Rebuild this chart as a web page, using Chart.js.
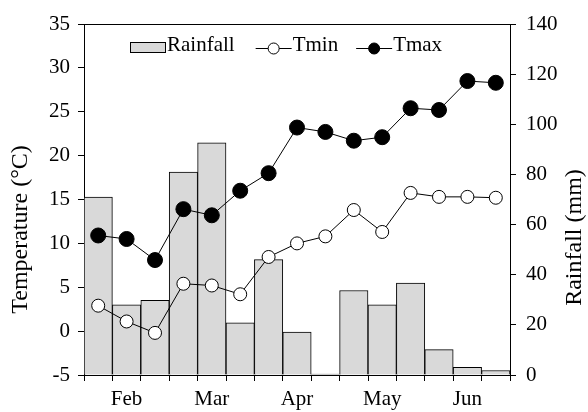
<!DOCTYPE html>
<html>
<head>
<meta charset="utf-8">
<script src="https://cdn.jsdelivr.net/npm/chart.js@4.4.1/dist/chart.umd.min.js"></script>
<style>
  html, body { margin: 0; padding: 0; background: #fff; }
</style>
</head>
<body>
<canvas id="chart" width="588" height="412"></canvas>
<script>
// Datos (15 periodos, feb - jun)
const periods = ['', 'Feb', '', '', 'Mar', '', '', 'Apr', '', '', 'May', '', '', 'Jun', ''];
const rainfall = [71, 28, 29.8, 80.9, 92.6, 20.8, 46, 17.1, 0.4, 33.7, 28, 36.7, 10.1, 3.1, 1.8];
const tmin = [2.9, 1.1, -0.2, 5.4, 5.2, 4.2, 8.45, 10, 10.8, 13.8, 11.3, 15.75, 15.3, 15.3, 15.2];
const tmax = [10.9, 10.5, 8.1, 13.9, 13.2, 16, 18, 23.2, 22.7, 21.7, 22.1, 25.4, 25.2, 28.5, 28.3];
const tempTicks = { min: -5, max: 35, step: 5 };
const rainTicks = { min: 0, max: 140, step: 20 };

const serif = '"Liberation Serif", "Times New Roman", serif';
const tickFont = { family: serif, size: 21 };

// Leyenda dentro del área del gráfico: caja, línea con círculo abierto, línea con círculo lleno
const insideLegend = {
  id: 'insideLegend',
  afterDraw(chart) {
    const { ctx, chartArea } = chart;
    const items = [
      { kind: 'box', text: 'Rainfall', w: 36, gap: 21 },
      { kind: 'open', text: 'Tmin', w: 36, gap: 18 },
      { kind: 'filled', text: 'Tmax', w: 36, gap: 0 }
    ];
    ctx.save();
    ctx.font = '21px ' + serif;
    ctx.fillStyle = '#000';
    ctx.strokeStyle = '#000';
    ctx.lineWidth = 1;
    ctx.textBaseline = 'alphabetic';
    let x = chartArea.left + 46;
    const yBase = chartArea.top + 27;
    const yMark = chartArea.top + 24;
    items.forEach(it => {
      if (it.kind === 'box') {
        ctx.fillStyle = '#d9d9d9';
        ctx.fillRect(x, yMark - 6, it.w, 10);
        ctx.strokeRect(x + 0.5, yMark - 5.5, it.w - 1, 10);
      } else {
        ctx.beginPath();
        ctx.moveTo(x, yMark + 0.5);
        ctx.lineTo(x + it.w, yMark + 0.5);
        ctx.stroke();
        ctx.beginPath();
        ctx.arc(x + it.w / 2, yMark + 0.5, 5.5, 0, Math.PI * 2);
        ctx.fillStyle = it.kind === 'open' ? '#fff' : '#000';
        ctx.fill();
        ctx.stroke();
      }
      x += it.w + 1;
      ctx.fillStyle = '#000';
      ctx.fillText(it.text, x, yBase);
      x += ctx.measureText(it.text).width + it.gap;
    });
    ctx.restore();
  }
};

// Marco superior y títulos de los ejes, ambos leídos de abajo hacia arriba
const axisTitles = {
  id: 'axisTitles',
  afterDraw(chart) {
    const { ctx, chartArea } = chart;
    const midY = (chartArea.top + chartArea.bottom) / 2;
    ctx.save();
    ctx.strokeStyle = '#000';
    ctx.lineWidth = 1;
    ctx.beginPath();
    ctx.moveTo(chartArea.left, chartArea.top + 0.5);
    ctx.lineTo(chartArea.right, chartArea.top + 0.5);
    ctx.stroke();
    ctx.fillStyle = '#000';
    ctx.font = '24px ' + serif;
    ctx.textAlign = 'center';
    ctx.textBaseline = 'middle';
    [[chartArea.left - 63, midY + 30, 'Temperature (°C)'],
     [chartArea.right + 65, midY + 38, 'Rainfall (mm)']].forEach(([x, y, t]) => {
      ctx.save();
      ctx.translate(x, y);
      ctx.rotate(-Math.PI / 2);
      ctx.fillText(t, 0, 0);
      ctx.restore();
    });
    ctx.restore();
  }
};

const ctx = document.getElementById('chart').getContext('2d');
const chart = new Chart(ctx, {
  type: 'bar',
  data: {
    labels: periods,
    datasets: [
      {
        type: 'line',
        label: 'Tmin',
        data: tmin,
        yAxisID: 'y',
        borderColor: '#000',
        borderWidth: 1,
        pointRadius: 6.5,
        pointBorderWidth: 1,
        pointBackgroundColor: '#fff',
        pointBorderColor: '#000',
        tension: 0,
        order: 1
      },
      {
        type: 'line',
        label: 'Tmax',
        data: tmax,
        yAxisID: 'y',
        borderColor: '#000',
        borderWidth: 1,
        pointRadius: 7.5,
        pointBorderWidth: 1,
        pointBackgroundColor: '#000',
        pointBorderColor: '#000',
        tension: 0,
        order: 2
      },
      {
        label: 'Rainfall',
        data: rainfall,
        yAxisID: 'y2',
        backgroundColor: '#d9d9d9',
        borderColor: '#000',
        borderWidth: 1,
        barPercentage: 1,
        categoryPercentage: 1,
        order: 3
      }
    ]
  },
  options: {
    responsive: false,
    animation: false,
    layout: { padding: { top: 24, left: 0, right: 0, bottom: 0 } },
    plugins: {
      tooltip: { enabled: false },
      legend: { display: false }
    },
    scales: {
      x: {
        offset: true,
        grid: { offset: true, drawOnChartArea: false, color: '#000', tickLength: 6 },
        border: { color: '#000', width: 1 },
        ticks: { autoSkip: false, maxRotation: 0, padding: 6, color: '#000', font: tickFont },
        afterFit(s) { s.height = 37; }
      },
      y: {
        position: 'left',
        min: tempTicks.min,
        max: tempTicks.max,
        grid: { drawOnChartArea: false, color: '#000', tickLength: 6 },
        border: { color: '#000', width: 1 },
        ticks: { stepSize: tempTicks.step, padding: 8, color: '#000', font: tickFont },
        afterFit(s) { s.width = 84; }
      },
      y2: {
        position: 'right',
        min: rainTicks.min,
        max: rainTicks.max,
        grid: { drawOnChartArea: false, color: '#000', tickLength: 6 },
        border: { color: '#000', width: 1 },
        ticks: { stepSize: rainTicks.step, padding: 10, color: '#000', font: tickFont },
        afterFit(s) { s.width = 78; }
      }
    }
  },
  plugins: [insideLegend, axisTitles]
});
</script>
</body>
</html>
